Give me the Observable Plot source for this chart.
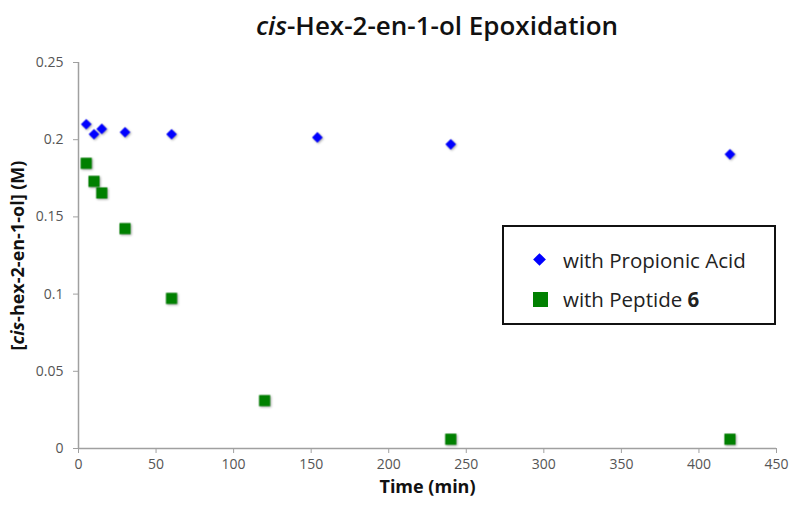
<!DOCTYPE html>
<html>
<head>
<meta charset="utf-8">
<script src="https://cdn.jsdelivr.net/npm/d3@7"></script>
<script src="https://cdn.jsdelivr.net/npm/@observablehq/plot@0.6"></script>
<style>
  html, body { margin: 0; padding: 0; background: #fff; }
  #wrap { position: relative; width: 800px; height: 519px; font-family: "Open Sans", "DejaVu Sans", sans-serif; }
  #title { height: 48px; line-height: 50px; text-align: center; padding-left: 74px; box-sizing: border-box; width: 800px;
           font-size: 26px; font-weight: 600; color: #111; }
  #legend { position: absolute; left: 502px; top: 225px; width: 274px; height: 100px; box-sizing: border-box;
            border: 2px solid #111; background: #fff; font-size: 20.5px; color: #222; }
  .lg { position: absolute; left: 0; display: flex; align-items: center; }
  .lg span.t { position: absolute; left: 59px; white-space: nowrap; }
  .sym { position: absolute; }
</style>
</head>
<body>
<div id="wrap">
  <div id="title"><i>cis</i>-Hex-2-en-1-ol Epoxidation</div>
  <div id="chart"></div>
  <div id="legend"></div>
</div>
<script>
const seriesNames = ["with Propionic Acid", "with Peptide 6"];
const seriesColors = ["#0000ff", "#008000"];
const acidTime = [5, 10, 15, 30, 60, 154, 240, 420];
const acidConc = [0.210, 0.2035, 0.207, 0.2048, 0.2035, 0.2015, 0.197, 0.1905];
const peptideTime = [5, 10, 15, 30, 60, 120, 240, 420];
const peptideConc = [0.1847, 0.173, 0.1655, 0.1424, 0.0972, 0.031, 0.006, 0.006];
const xTicks = [0, 50, 100, 150, 200, 250, 300, 350, 400, 450];
const yTicks = [0, 0.05, 0.1, 0.15, 0.2, 0.25];
const yTickLabels = ["0", "0.05", "0.1", "0.15", "0.2", "0.25"];

const acid = acidTime.map((t, i) => ({t, c: acidConc[i]}));
const peptide = peptideTime.map((t, i) => ({t, c: peptideConc[i]}));

const axisColor = "#a0a0a0";
const plot = Plot.plot({
  width: 800,
  height: 471,
  marginTop: 14,
  marginBottom: 71,
  marginLeft: 78,
  marginRight: 24,
  style: {fontFamily: "'Open Sans', 'DejaVu Sans', sans-serif", fontSize: "14px", color: "#555", background: "transparent"},
  x: {domain: [0, 450], ticks: xTicks, label: "Time (min)"},
  y: {domain: [0, 0.25], ticks: yTicks, label: "[cis-hex-2-en-1-ol] (M)"},
  marks: [
    Plot.axisX({ticks: xTicks, tickSize: 5, tickPadding: 6, stroke: axisColor, fill: "#555",
      label: "Time (min)", labelAnchor: "center", labelArrow: "none", labelOffset: 44}),
    Plot.axisY({ticks: yTicks, tickSize: 5, tickPadding: 10, stroke: axisColor, fill: "#555",
      tickFormat: d => yTickLabels[yTicks.indexOf(d)],
      label: "[cis-hex-2-en-1-ol] (M)", labelAnchor: "center", labelArrow: "none", labelOffset: 67}),
    Plot.ruleX([0], {stroke: axisColor, strokeWidth: 1.5}),
    Plot.ruleY([0], {stroke: axisColor, strokeWidth: 1.5}),
    Plot.dot(peptide, {x: "t", y: "c", symbol: "square", r: 6.3, fill: seriesColors[1], stroke: "none"}),
    Plot.dot(acid, {x: "t", y: "c", symbol: "diamond2", r: 4.8, fill: seriesColors[0], stroke: "none"})
  ]
});
document.getElementById("chart").appendChild(plot);

// styling of labels
const svg = d3.select(plot);
svg.selectAll('g[aria-label="dot"]').style("filter", "drop-shadow(1px 1.5px 1px rgba(0,0,0,0.35))");
const xl = svg.select('g[aria-label="x-axis label"] text');
xl.attr("font-weight", "bold").attr("font-size", "18px").attr("fill", "#111");
const yl = svg.select('g[aria-label="y-axis label"] text');
yl.attr("font-weight", "bold").attr("font-size", "18px").attr("fill", "#111");
yl.text(null);
yl.append("tspan").text("[");
yl.append("tspan").attr("font-style", "italic").text("cis");
yl.append("tspan").text("-hex-2-en-1-ol] (M)");

// legend (HTML overlay)
const legend = d3.select("#legend");
const rows = [
  {name: seriesNames[0], color: seriesColors[0], sym: "diamond", top: 33},
  {name: seriesNames[1], color: seriesColors[1], sym: "square", top: 72}
];
rows.forEach(r => {
  const row = legend.append("div").attr("class", "lg").style("top", (r.top - 12) + "px").style("height", "24px").style("width", "270px");
  if (r.sym === "diamond") {
    row.append("div").attr("class", "sym")
      .style("left", "31px").style("top", "7px").style("width", "9px").style("height", "9px")
      .style("background", r.color).style("transform", "rotate(45deg)");
  } else {
    row.append("div").attr("class", "sym")
      .style("left", "29px").style("top", "5px").style("width", "15px").style("height", "15px")
      .style("background", r.color);
  }
  const t = row.append("span").attr("class", "t");
  if (r.name.endsWith(" 6")) {
    t.append("span").text(r.name.slice(0, -1));
    t.append("b").text("6");
  } else {
    t.text(r.name);
  }
});
</script>
</body>
</html>
